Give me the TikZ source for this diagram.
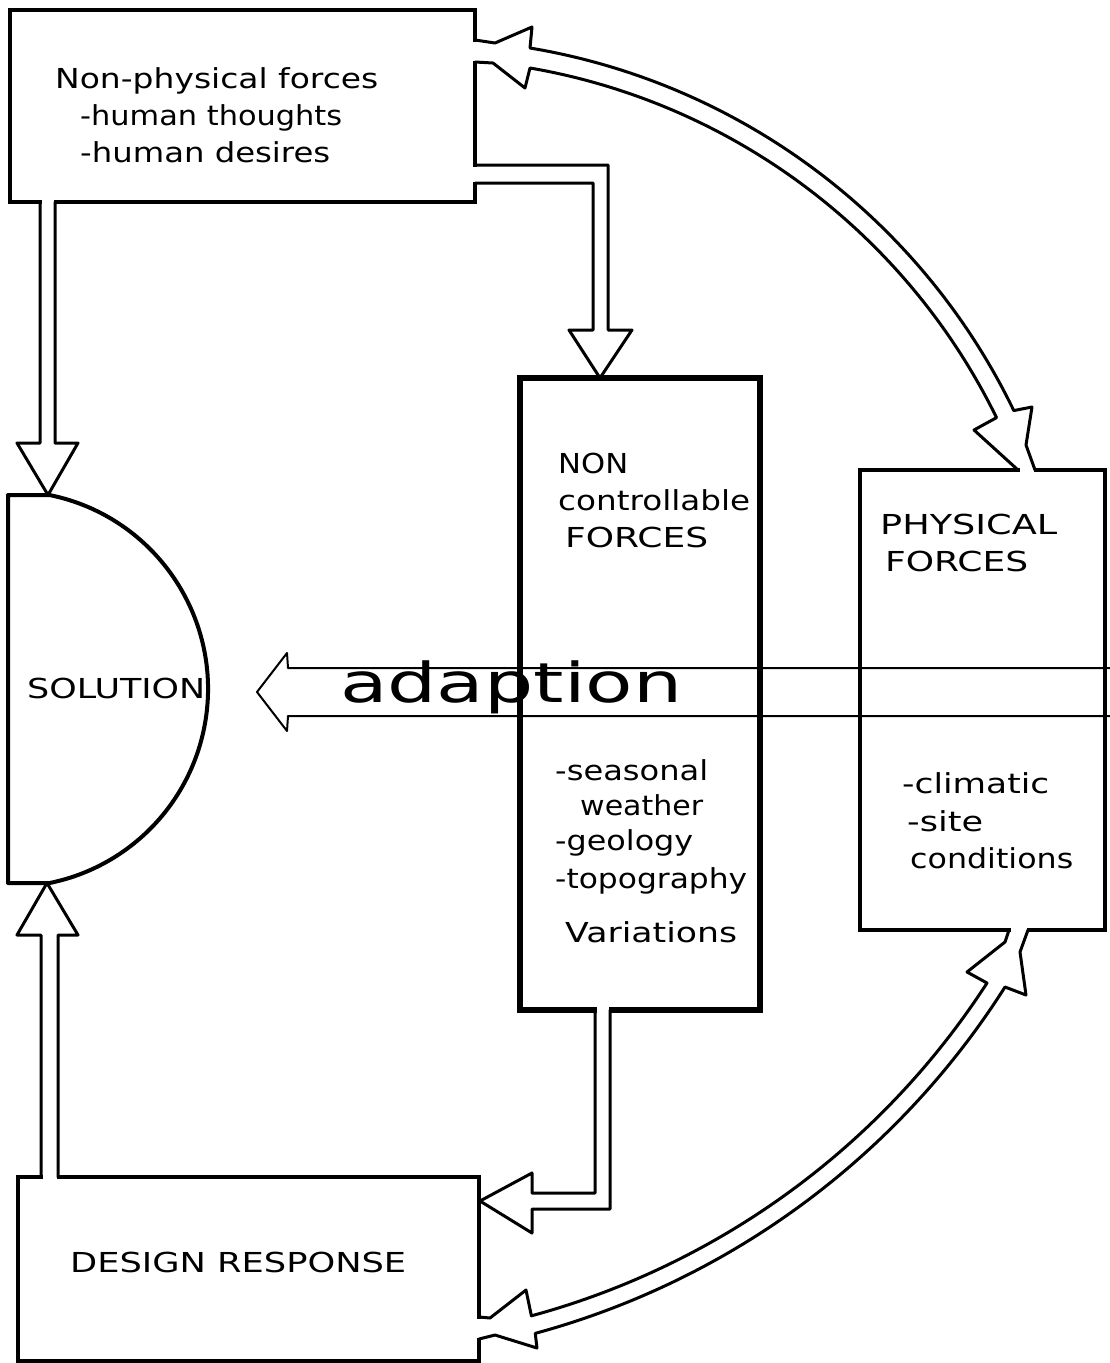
\documentclass[tikz,border=0pt]{standalone}
\usepackage{fontspec}
\setmainfont{DejaVu Sans}
\usetikzlibrary{calc}
\newcommand\fitw[2]{\resizebox{#1}{\height}{#2}}
\begin{document}
\begin{tikzpicture}[x=1pt,y=-1pt,
  boxline/.style={draw, line width=3.5pt, inner sep=0pt, outer sep=0pt, anchor=north west},
  thickbox/.style={boxline, line width=6.5pt},
  hollow/.style={line width=3pt, line join=round, line cap=round},
  lbl/.style={anchor=base west, inner sep=0pt, font=\fontsize{27.5}{33}\selectfont},
  gapfill/.style={fill=white}
]
\useasboundingbox (0,0) rectangle (1110,1363);

% boxes
\node[boxline, minimum width=465pt, minimum height=192pt] (np) at (10,10) {};
\node[thickbox, minimum width=240pt, minimum height=632pt] (nc) at (520,378) {};
\node[boxline, minimum width=245pt, minimum height=460pt] (pf) at (860,470) {};
\node[boxline, minimum width=461pt, minimum height=184pt] (dr) at (18,1177) {};

% solution half disc
\draw[line width=4pt, line join=round] (8,495) -- (49.5,495)
  arc[start angle=78.5, end angle=-78.5, radius=198pt] -- (8,883) -- cycle;
\coordinate (sol) at (8,689);

% openings where the hollow arrows enter the boxes
\fill[gapfill] (470,41.5) rectangle (480,60.5);
\fill[gapfill] (470,166.5) rectangle (480,181.5);
\fill[gapfill] (41.5,197) rectangle (53.5,207);
\fill[gapfill] (1019.5,465) rectangle (1033.5,475);
\fill[gapfill] (1010.5,925) rectangle (1026.5,935);
\fill[gapfill] (596.5,1004) rectangle (608.5,1016);
\fill[gapfill] (474,1318.5) rectangle (484,1337.5);
\fill[gapfill] (42.5,1172) rectangle (56.5,1182);

% hollow arrows
\draw[hollow] (40,202) -- (40,443) -- (17,443) -- (48,495) -- (78,443) -- (55,443) -- (55,202);
\draw[hollow] (475,165) -- (608,165) -- (608,330) -- (632,330) -- (600,378) -- (569,330) -- (593,330) -- (593,183) -- (475,183);
\draw[hollow] (595,1010) -- (595,1193) -- (532,1193) -- (532,1173) -- (480,1201) -- (532,1233) -- (532,1209) -- (610,1209) -- (610,1010);
\draw[hollow] (41,1177) -- (41,935) -- (17,935) -- (47,883) -- (78,935) -- (58,935) -- (58,1177);

\draw[hollow] (475,40) -- (495,43) -- (532,27) -- (530,48)
  arc[start angle=80.5, end angle=25.8, radius=658pt] -- (1032,407) -- (1026,445) -- (1035,470);
\draw[hollow] (475,62) -- (493,63) -- (525,88) -- (530,68)
  arc[start angle=80.2, end angle=26.1, radius=641pt] -- (974,430) -- (1018,470);

\draw[hollow] (1009,930) -- (1005,942) -- (967,972) -- (987,983)
  arc[start angle=-32.9, end angle=-74.8, radius=789pt] -- (526,1290) -- (490,1318) -- (479,1317);
\draw[hollow] (1028,930) -- (1020,952) -- (1026,995) -- (1005,987)
  arc[start angle=-32.4, end angle=-74.8, radius=807pt] -- (537,1348) -- (495,1335) -- (479,1339);

% adaption arrow
\draw[line width=2pt, line join=round] (1110,668) -- (288,668) -- (287,653) -- (257,692) -- (287,731) -- (288,716) -- (1110,716);
\node[anchor=base west, inner sep=0pt] (adapt) at (340,702) {\fontsize{55}{60}\selectfont\fitw{342pt}{adaption}};

% texts
\node[lbl] (t1) at (55,88)  {\fitw{323pt}{Non-physical forces}};
\node[lbl] (t2) at (80,125) {\fitw{262pt}{-human thoughts}};
\node[lbl] (t3) at (80,162) {\fitw{250pt}{-human desires}};

\node[lbl] (t4) at (558,473) {\fitw{70pt}{NON}};
\node[lbl] (t5) at (558,510) {\fitw{192pt}{controllable}};
\node[lbl] (t6) at (565,547) {\fitw{143pt}{FORCES}};
\node[lbl] (t7) at (555,780) {\fitw{153pt}{-seasonal}};
\node[lbl] (t8) at (580,815) {\fitw{123pt}{weather}};
\node[lbl] (t9) at (555,850) {\fitw{138pt}{-geology}};
\node[lbl] (t10) at (555,888) {\fitw{192pt}{-topography}};
\node[lbl] (t11) at (565,942) {\fitw{172pt}{Variations}};

\node[lbl] (t12) at (880,534) {\fitw{177pt}{PHYSICAL}};
\node[lbl] (t13) at (885,571) {\fitw{143pt}{FORCES}};
\node[lbl] (t14) at (902,793) {\fitw{147pt}{-climatic}};
\node[lbl] (t15) at (907,831) {\fitw{76pt}{-site}};
\node[lbl] (t16) at (910,868) {\fitw{163pt}{conditions}};

\node[lbl] (soltext) at (27,698) {\fitw{178pt}{SOLUTION}};
\node[lbl] (drtext) at (70,1272) {\fitw{336pt}{DESIGN RESPONSE}};
\end{tikzpicture}
\end{document}
